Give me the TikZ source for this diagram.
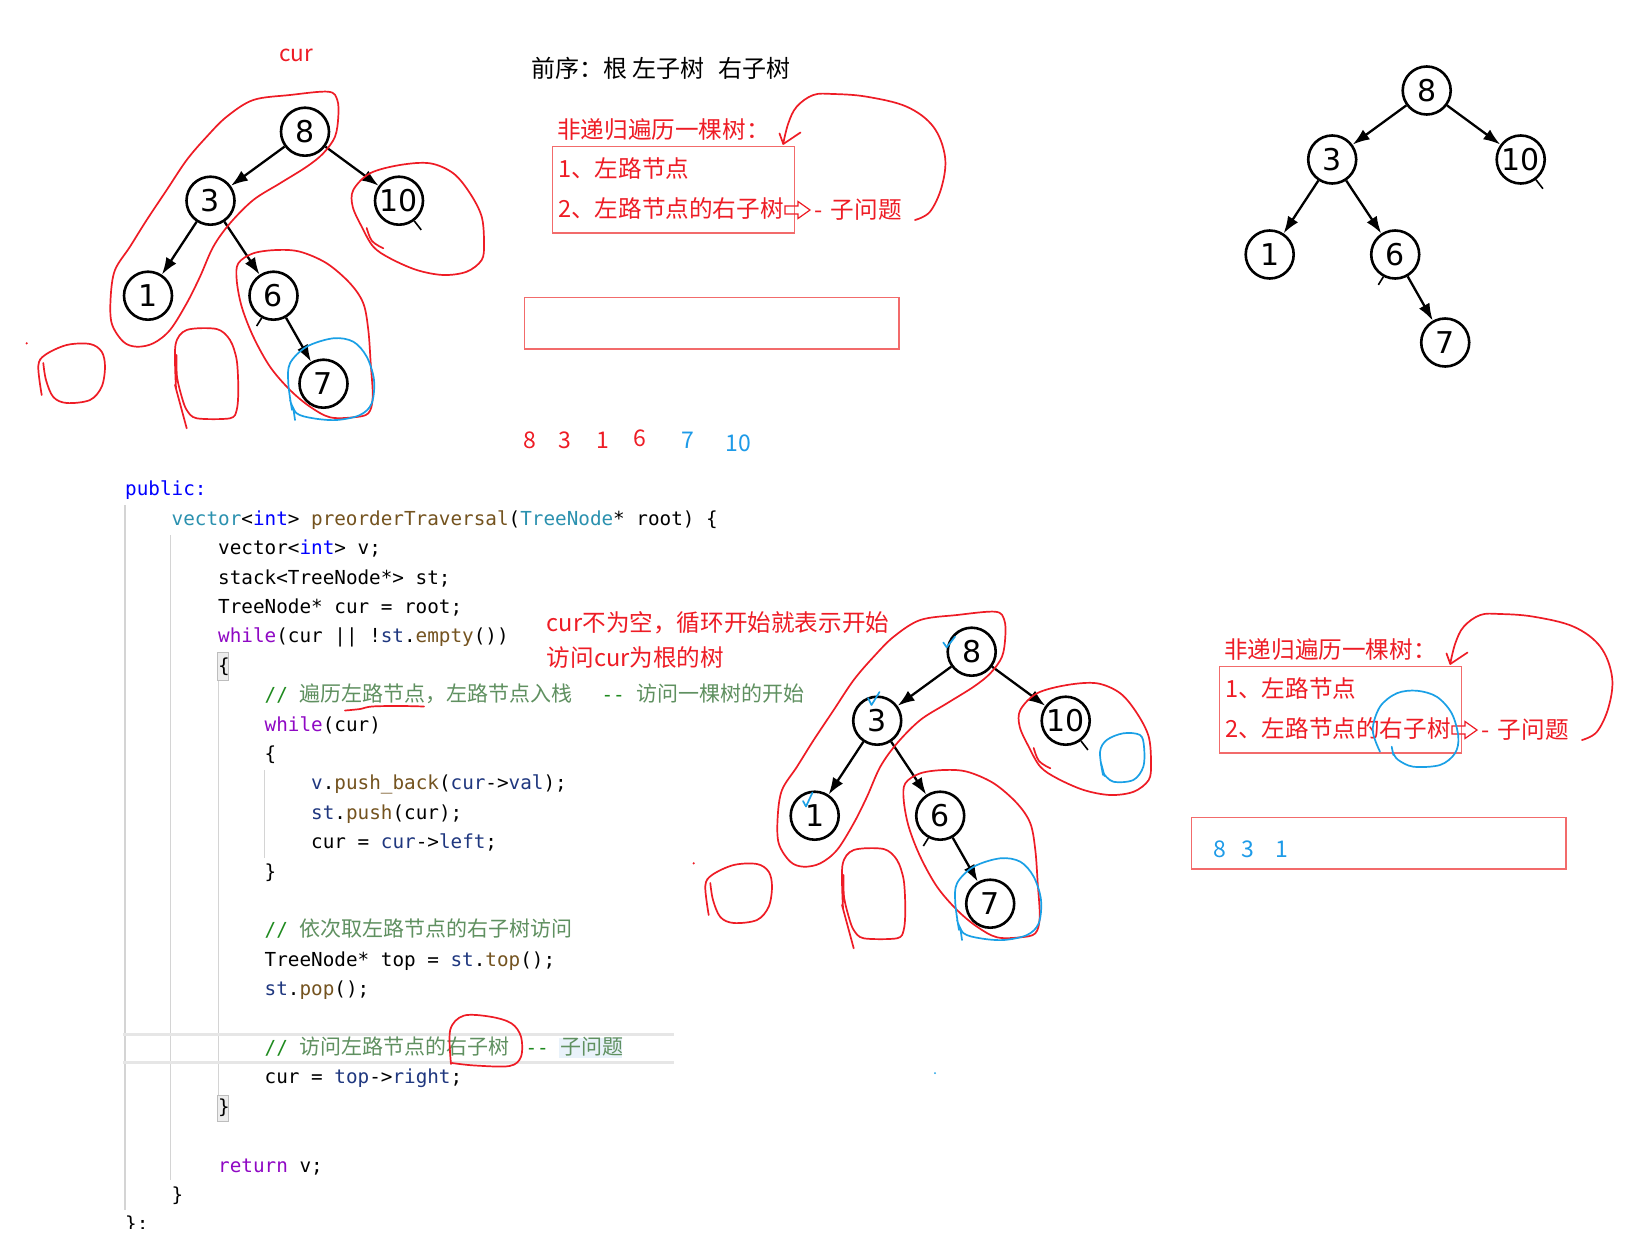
\documentclass[tikz,border=0pt]{standalone}
\usepackage{fontspec}
\usetikzlibrary{arrows.meta}
\setmainfont{Noto Sans CJK SC}
\newfontfamily\cjkfont{Noto Sans CJK SC}
\newfontfamily\codefont{DejaVu Sans Mono}[Ligatures=TeXOff]
\newfontfamily\treefont{DejaVu Sans}
\definecolor{kwblue}{HTML}{0000FF}
\definecolor{tyteal}{HTML}{2B91AF}
\definecolor{fnbrown}{HTML}{74531F}
\definecolor{ctlpurple}{HTML}{8F08C4}
\definecolor{lvnavy}{HTML}{1F377F}
\definecolor{cmgreen}{HTML}{1E8A1E}
\definecolor{cmcjk}{HTML}{5F9060}
\definecolor{annred}{HTML}{EE1C25}
\definecolor{boxred}{HTML}{F26B6B}
\definecolor{hred}{HTML}{EE1C25}
\definecolor{hblue}{HTML}{1AA0E6}
\definecolor{numblue}{HTML}{1E9BE8}
\definecolor{guidegray}{HTML}{D4D4D4}
\definecolor{curlinegray}{HTML}{E6E6E6}
\definecolor{bracefill}{HTML}{EDEDED}
\definecolor{bracedraw}{HTML}{BDBDBD}
\definecolor{selblue}{HTML}{E9F2FA}
\newcommand\ckw[1]{\textcolor{kwblue}{#1}}
\newcommand\cty[1]{\textcolor{tyteal}{#1}}
\newcommand\cfn[1]{\textcolor{fnbrown}{#1}}
\newcommand\cct[1]{\textcolor{ctlpurple}{#1}}
\newcommand\clv[1]{\textcolor{lvnavy}{#1}}
\newcommand\ccm[1]{\textcolor{cmgreen}{#1}}
\newcommand\cjc[1]{{\cjkfont\fontsize{21}{24}\selectfont\color{cmcjk}#1}}
\tikzset{
  tnode/.style={circle, draw=black, line width=2.6pt, minimum size=48pt, inner sep=0pt,
    font=\treefont\fontsize{30}{30}\selectfont},
  tarrow/.style={line width=2.3pt, -{Latex[length=17pt,width=12pt]}},
  tstub/.style={line width=1.6pt},
  redtxt/.style={text=annred, font=\cjkfont\fontsize{23.6}{27}\selectfont, inner sep=0pt},
  blacktxt/.style={text=black, font=\cjkfont\fontsize{24}{28}\selectfont, inner sep=0pt},
  rednum/.style={text=annred, font=\cjkfont\fontsize{23}{26}\selectfont, inner sep=0pt},
  bluenum/.style={text=numblue, font=\cjkfont\fontsize{23}{26}\selectfont, inner sep=0pt},
  redbox/.style={draw=boxred, line width=1.4pt, inner sep=0pt},
  codeline/.style={anchor=base west, inner sep=0pt, font=\codefont\fontsize{19.3}{24}\selectfont},
  handred/.style={draw=hred, line width=1.7pt, line cap=round, line join=round},
  handblue/.style={draw=hblue, line width=1.7pt, line cap=round, line join=round},
  guide/.style={draw=guidegray, line width=1.3pt},
  bintree/.pic={
    \node[tnode] (-n8) at (0,0) {8};
    \node[tnode] (-n3) at (-94.5,69) {3};
    \node[tnode] (-n10) at (94,69) {10};
    \node[tnode] (-n1) at (-157,164) {1};
    \node[tnode] (-n6) at (-31.5,164) {6};
    \node[tnode] (-n7) at (18.5,252) {7};
    \draw[tarrow] (-n8) -- (-n3);
    \draw[tarrow] (-n8) -- (-n10);
    \draw[tarrow] (-n3) -- (-n1);
    \draw[tarrow] (-n3) -- (-n6);
    \draw[tarrow] (-n6) -- (-n7);
    \draw[tstub] (-n10.-53) -- ++(7,9);
    \draw[tstub] (-n6.-118) -- ++(-5,8);
  },
  annot/.pic={
    \node[redtxt, anchor=west] (-title) at (557,130) {非递归遍历一棵树：};
    \node[redbox, anchor=north west, minimum width=242.3pt, minimum height=86.6pt] (-box) at (551.7,145.7) {};
    \node[redtxt, anchor=west] (-i1) at (558,168.3) {1、左路节点};
    \node[redtxt, anchor=west] (-i2) at (558,208.3) {2、左路节点的右子树};
    \draw[draw=hred, line width=1.2pt, line join=miter]
      (785,206) -- (798,206) -- (798,201.5) -- (810,210) -- (798,218.5) -- (798,214) -- (785,214) -- cycle;
    \node[redtxt, anchor=west] (-sub) at (814.5,210) {-\hspace{8pt}子问题};
    \draw[handred] plot[smooth, tension=0.6] coordinates {(915,220) (930,211.7) (941.7,186.7) (945,156.7) (933.3,126.7) (906.7,106.7) (866.7,96.7) (833.3,94) (813.3,95) (796.7,106.7) (788.3,123.3) (783.3,143.3)};
    \draw[handred] (779.5,133.5) -- (783.3,144) -- (800.5,132.5);
    \node[redbox, anchor=north west, minimum width=374.3pt, minimum height=51.6pt] (-res) at (524,296.7) {};
  }
}
\newcommand\redloops{%
  \draw[handred] plot[smooth cycle, tension=0.55] coordinates {(328.3,91.7) (290,95) (253.3,100) (226.7,116.7) (206.7,136.7) (186.7,160) (166.7,190) (146.7,220) (130,246.7) (115,270) (110.7,296.7) (111.7,323.3) (123.3,341.7) (136.7,346.7) (153.3,343.3) (170,330) (186.7,303.3) (200,276.7) (213.3,246.7) (230,223.3) (253.3,200) (280,183.3) (306.7,166.7) (323.3,153.3) (335,136.7) (338.3,116.7) (337.3,100)};
  \draw[handred] plot[smooth cycle, tension=0.55] coordinates {(353.3,190) (370,173.3) (400,165) (430,163.3) (453.3,173.3) (470,193.3) (481.7,216.7) (484,243.3) (481.7,260) (466.7,271.7) (443.3,275) (416.7,270) (390,258.3) (373.3,246.7) (361.7,226.7) (352.7,206.7)};
  \draw[handred] plot[smooth, tension=0.6] coordinates {(366.7,228) (372,241) (383.3,248.3)};
  \draw[handred] plot[smooth cycle, tension=0.55] coordinates {(238.3,263.3) (253.3,253.3) (276.7,250) (300,251.7) (326.7,263.3) (350,283.3) (363.3,303.3) (368.3,330) (370.7,363.3) (372.7,396.7) (368.3,413.3) (353.3,417.3) (330,417.3) (310,406.7) (290,390) (270,366.7) (253.3,336.7) (241.7,306.7) (236.7,280)};
  \draw[handred] plot[smooth, tension=0.55] coordinates {(41.7,395) (38.3,366) (45,355) (66.7,345) (90,344) (101.7,351.7) (105,366.7) (101.7,386.7) (90,400) (66.7,403) (53.3,397) (46,380) (43.3,363)};
  \draw[handred] plot[smooth, tension=0.5] coordinates {(176,388) (175.5,345) (186.7,330) (216.7,329) (230,340) (236.7,360) (238.3,390) (236.7,410) (230,418.3) (196.7,418.3) (186.7,410) (181.7,396.7) (177,376.7) (176.5,355)};
  \draw[handred] (175,385) -- (186.7,428.3);
  \fill[hred] (26.7,343.3) circle (1.2);
  \draw[handblue] plot[smooth, tension=0.55] coordinates {(292,410) (288.3,383.3) (290,363.3) (306.7,346.7) (333.3,338.3) (353.3,341.7) (366.7,356.7) (374,380) (371.7,403.3) (360,415) (336.7,420) (313.3,418.3) (296.7,413.3) (290,400)};
  \draw[handblue] (293.3,408) -- (295,420);
}
\begin{document}
\begin{tikzpicture}[x=1pt,y=-1pt]
\fill[white] (0,0) rectangle (1643,1242);
\useasboundingbox (0,0) rectangle (1643,1242);

% ---------- trees ----------
\pic (ta) at (305,131.7) {bintree};
\pic (tb) at (1426.7,90.5) {bintree};
\pic (tc) at (971.7,651.7) {bintree};

% red/blue hand loops on tree 1 and tree 3
\redloops
\begin{scope}[shift={(667,520)}]
  \redloops
\end{scope}
% extra marks on tree 3
\draw[handblue] (943.3,642.5) -- (946.7,647.3) -- (955,636.7);
\draw[handblue] (868,698) -- (871.5,705) -- (879.5,692);
\draw[handblue] (803,801) -- (806,806.5) -- (812.5,792.5);
\draw[handblue] plot[smooth, tension=0.55] coordinates {(1103,775) (1100,752) (1106.7,740) (1123.3,733.3) (1140,735) (1144,746.7) (1143.3,766.7) (1133.3,780) (1113.3,781.7) (1103.3,773.3)};
\draw[handblue] (1101,763) -- (1104.5,776);
\fill[hblue] (935,1073) circle (1);

% ---------- annotations ----------
\node[text=annred, font=\cjkfont\fontsize{22.5}{26}\selectfont, inner sep=0pt] (curlbl) at (296.3,55.8) {cur};
\node[blacktxt, anchor=west] (pre) at (531.7,68) {前序：根\hspace{5pt}左子树\hspace{14pt}右子树};

\pic (ga) at (0,0) {annot};
\pic (gb) at (667,520) {annot};

\node[rednum] (s1) at (529.7,440.5) {8};
\node[rednum] (s2) at (565,440.5) {3};
\node[rednum] (s3) at (603.3,440.5) {1};
\node[rednum] (s4) at (639.7,438.7) {6};
\node[bluenum] (s5) at (688.3,440.5) {7};
\node[bluenum] (s6) at (738.2,442.9) {10};

\node[bluenum] (r1) at (1219.5,849.2) {8};
\node[bluenum] (r2) at (1247.5,849.2) {3};
\node[bluenum] (r3) at (1281.7,849.2) {1};

\draw[handblue] plot[smooth, tension=0.55] coordinates {(1380,751.7) (1372.7,730) (1380,706.7) (1396.7,693.3) (1416.7,690.7) (1436.7,696.7) (1451.7,713.3) (1458.3,736.7) (1455,753.3) (1440,765) (1413.3,766.7) (1398.3,760) (1393.3,753.3)};
\draw[handblue] (1391.7,746.7) -- (1393.3,755);

\node[redtxt, anchor=west] (note1) at (546.7,623) {cur不为空，循环开始就表示开始};
\node[redtxt, anchor=west] (note2) at (546.7,657) {访问cur为根的树};

% ---------- code ----------
\draw[guide] (125,505) -- (125,1210);
\draw[guide] (170.8,535) -- (170.8,1180);
\draw[guide] (218.6,680) -- (218.6,1095);
\draw[guide] (264.6,770) -- (264.6,858);
\draw[curlinegray, line width=2.5pt] (123,1034.3) -- (674,1034.3);
\draw[curlinegray, line width=2.5pt] (123,1062.3) -- (674,1062.3);
\fill[selblue] (559,1038) rectangle (622,1058);
\draw[draw=bracedraw, fill=bracefill, line width=1pt] (217.9,652.7) rectangle (228.6,680);
\draw[draw=bracedraw, fill=bracefill, line width=1pt] (217.9,1095) rectangle (228.6,1121.7);

\node[codeline] (c0) at (125,495.8) {\ckw{public:}};
\node[codeline] (c1) at (171.5,525.2) {\cty{vector}<\ckw{int}> \cfn{preorderTraversal}(\cty{TreeNode}* root) \{};
\node[codeline] (c2) at (218,554.6) {vector<\ckw{int}> v;};
\node[codeline] (c3) at (218,584) {stack<TreeNode*> st;};
\node[codeline] (c4) at (218,613.4) {TreeNode* cur = root;};
\node[codeline] (c5) at (218,642.8) {\cct{while}(cur || !\clv{st}.\cfn{empty}())};
\node[codeline] (c6) at (218,672.2) {\{};
\node[codeline] (c7) at (264.5,701.6) {\ccm{//~\cjc{遍历左路节点，左路节点入栈}\hspace{29pt}--~\cjc{访问一棵树的开始}}};
\node[codeline] (c8) at (264.5,731) {\cct{while}(cur)};
\node[codeline] (c9) at (264.5,760.4) {\{};
\node[codeline] (c10) at (311,789.8) {\clv{v}.\cfn{push\_back}(\clv{cur}->\clv{val});};
\node[codeline] (c11) at (311,819.2) {\clv{st}.\cfn{push}(cur);};
\node[codeline] (c12) at (311,848.6) {cur = \clv{cur}->\clv{left};};
\node[codeline] (c13) at (264.5,878) {\}};
\node[codeline] (c15) at (264.5,936.8) {\ccm{//~\cjc{依次取左路节点的右子树访问}}};
\node[codeline] (c16) at (264.5,966.2) {TreeNode* top = \clv{st}.\cfn{top}();};
\node[codeline] (c17) at (264.5,995.6) {\clv{st}.\cfn{pop}();};
\node[codeline] (c19) at (264.5,1054.4) {\ccm{//~\cjc{访问左路节点的右子树}\hspace{16pt}--~\cjc{子问题}}};
\node[codeline] (c20) at (264.5,1083.8) {cur = \clv{top}->\clv{right};};
\node[codeline] (c21) at (218,1113.2) {\}};
\node[codeline] (c23) at (218,1172) {\cct{return} v;};
\node[codeline] (c24) at (171.5,1201.4) {\}};
\begin{scope}
  \clip (0,0) rectangle (1643,1228);
  \node[codeline] (c25) at (125,1230.3) {\};};
\end{scope}

% red marks on code
\draw[handred] plot[smooth, tension=0.6] coordinates {(345,710.5) (360,709) (372,706.5) (400,706) (424,706.5)};
\draw[handred] plot[smooth, tension=0.55] coordinates {(451,1064) (450.2,1030) (463.6,1015.7) (490.4,1016.7) (511.4,1023.3) (521,1036.7) (521,1056.7) (509.5,1066) (475,1065.5) (452,1063)};
\end{tikzpicture}
\end{document}
